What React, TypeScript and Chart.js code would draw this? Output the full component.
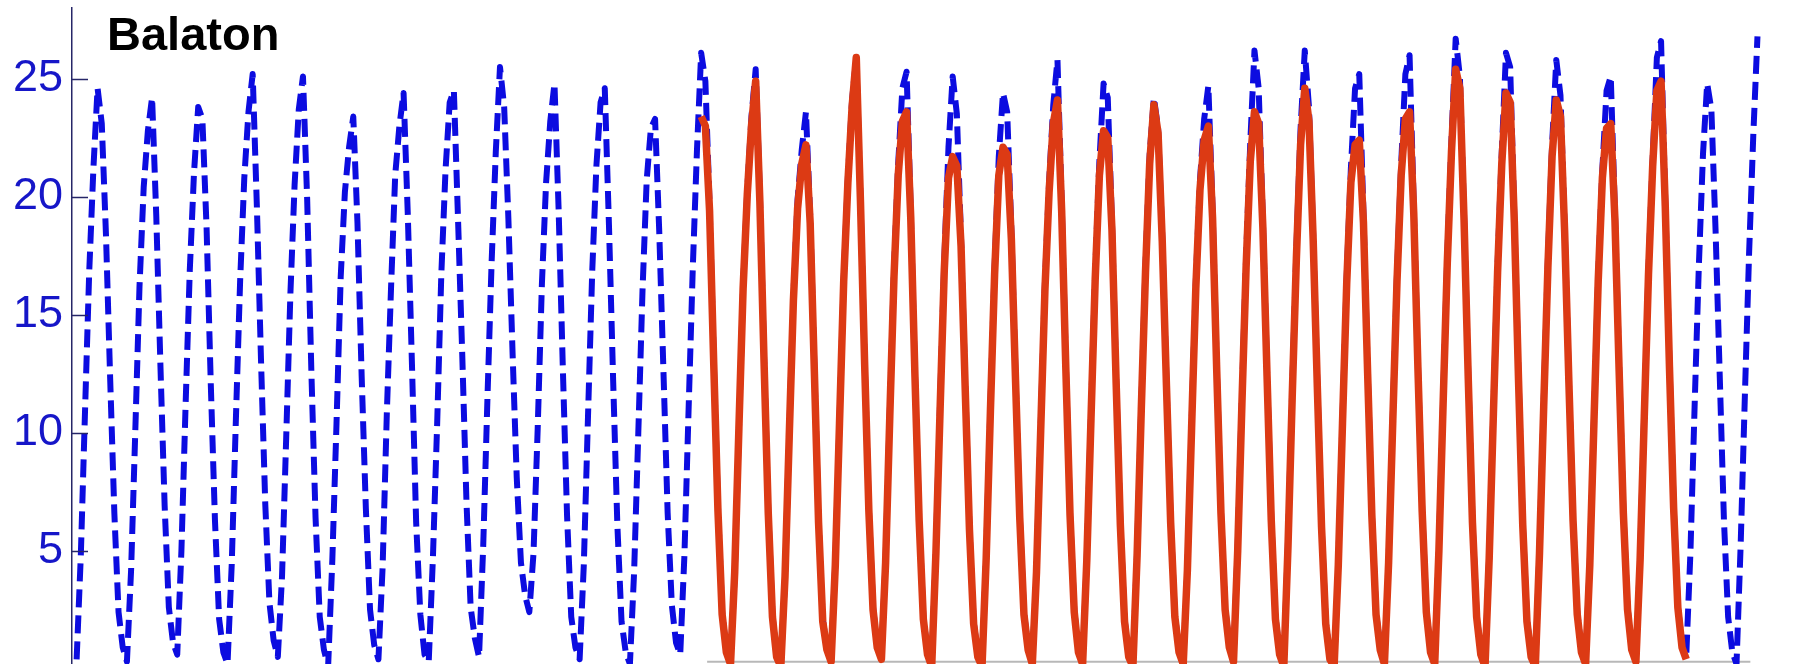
import React, { useEffect, useRef } from "react";
import { Chart, registerables } from "chart.js";

Chart.register(...registerables);

// ---- data -------------------------------------------------------------
const START_YEAR = 1977;
const X_MIN = 1977.033;
const X_MAX = 2011.248;
const Y_MIN = 0.2;
const Y_MAX = 28;
const Y_TICKS = [5, 10, 15, 20, 25];

// Measured water temperature (blue, dashed) – monthly values from Feb 1977
const MEASURED_FIRST_MONTH = 1;
const MEASURED = [
  /* 1977 */ 0.4, 4.8, 10.9, 16.8, 21.2, 24.6, 23.1, 18.4, 12.3, 6.6, 2.4,
  /* 1978 */ 0.9, 0.3, 4.2, 10.1, 16.2, 20.4, 22.8, 24.2, 19.2, 12.8, 6.9, 2.6,
  /* 1979 */ 1.1, 0.6, 5.0, 11.2, 16.9, 21.0, 23.8, 23.3, 18.7, 12.1, 6.3, 2.1,
  /* 1980 */ 0.7, 0.2, 4.4, 10.6, 16.4, 20.8, 23.6, 25.2, 19.6, 13.0, 7.0, 2.8,
  /* 1981 */ 1.2, 0.5, 3.9, 9.8, 15.9, 20.5, 23.7, 25.1, 19.9, 12.6, 6.4, 2.2,
  /* 1982 */ 0.8, 0.1, 4.6, 10.4, 16.6, 20.2, 22.1, 23.4, 18.9, 12.4, 6.8, 2.5,
  /* 1983 */ 1.0, 0.4, 4.3, 10.8, 16.1, 20.9, 23.0, 24.4, 19.3, 12.9, 6.2, 2.3,
  /* 1984 */ 0.6, 0.3, 4.7, 10.3, 16.7, 21.1, 24.0, 24.5, 19.0, 13.3, 7.1, 2.6,
  /* 1985 */ 1.3, 0.5, 5.2, 11.4, 17.2, 21.9, 25.5, 23.8, 19.1, 13.4, 8.1, 4.5,
  /* 1986 */ 3.1, 2.4, 4.9, 10.2, 16.3, 20.6, 23.2, 24.8, 19.4, 12.7, 6.5, 2.2,
  /* 1987 */ 0.9, 0.4, 4.4, 10.7, 16.8, 21.3, 24.0, 24.6, 18.8, 12.2, 6.1, 2.0,
  /* 1988 */ 0.7, 0.2, 4.1, 10.0, 16.0, 20.7, 22.9, 23.3, 18.5, 12.6, 6.6, 2.7,
  /* 1989 */ 1.1, 0.6, 4.8, 11.0, 17.0, 22.0, 26.1, 24.9, 19.7, 13.1, 6.9, 2.4,
  /* 1990 */ 0.8, 0.3, 4.0, 10.1, 16.2, 20.3, 23.4, 25.4, 20.1, 13.2, 6.7, 2.3,
  /* 1991 */ 0.5, 0.1, 3.8, 9.9, 15.8, 19.9, 22.0, 23.6, 19.2, 12.8, 6.3, 2.1,
  /* 1992 */ 0.9, 0.4, 4.5, 10.5, 16.5, 20.8, 24.1, 25.9, 20.0, 13.0, 6.8, 2.6,
  /* 1993 */ 1.0, 0.5, 4.6, 10.9, 16.9, 21.4, 24.6, 25.3, 19.4, 12.5, 6.4, 2.2,
  /* 1994 */ 0.7, 0.2, 5.1, 11.3, 17.3, 22.1, 25.1, 23.5, 18.2, 12.0, 6.0, 2.0,
  /* 1995 */ 0.6, 0.1, 4.9, 11.1, 17.0, 21.7, 24.4, 23.6, 18.6, 12.4, 6.5, 2.4,
  /* 1996 */ 0.9, 0.3, 4.2, 10.3, 16.3, 20.6, 23.9, 25.8, 19.8, 12.9, 6.6, 2.5,
  /* 1997 */ 0.8, 0.2, 4.7, 10.8, 16.8, 21.5, 24.8, 24.2, 18.9, 12.3, 6.2, 2.1,
  /* 1998 */ 0.6, 0.2, 5.0, 11.2, 17.1, 21.8, 24.2, 22.9, 18.3, 12.2, 6.3, 2.3,
  /* 1999 */ 0.8, 0.3, 4.3, 10.4, 16.4, 20.7, 23.3, 24.7, 19.5, 12.8, 6.7, 2.6,
  /* 2000 */ 1.0, 0.4, 5.2, 11.5, 17.4, 22.3, 26.2, 24.6, 19.0, 12.6, 6.4, 2.2,
  /* 2001 */ 0.7, 0.2, 5.4, 11.8, 17.8, 22.9, 26.2, 23.8, 18.4, 12.1, 6.1, 2.0,
  /* 2002 */ 0.5, 0.1, 4.5, 10.6, 16.6, 21.2, 24.6, 25.2, 19.3, 12.7, 6.6, 2.4,
  /* 2003 */ 0.9, 0.3, 4.6, 10.7, 16.7, 21.4, 25.2, 26.0, 19.6, 12.9, 6.8, 2.5,
  /* 2004 */ 0.8, 0.3, 5.1, 11.4, 17.5, 22.4, 26.7, 25.1, 19.2, 12.5, 6.3, 2.3,
  /* 2005 */ 0.7, 0.2, 4.8, 11.0, 17.1, 21.9, 26.1, 25.5, 19.1, 12.4, 6.2, 2.1,
  /* 2006 */ 0.6, 0.1, 5.0, 11.3, 17.3, 22.2, 25.8, 24.3, 18.7, 12.3, 6.4, 2.4,
  /* 2007 */ 0.8, 0.3, 4.5, 10.6, 16.6, 21.2, 24.5, 25.1, 19.3, 12.8, 6.7, 2.6,
  /* 2008 */ 0.9, 0.4, 4.7, 10.9, 16.9, 21.6, 25.9, 26.6, 19.8, 13.0, 6.9, 2.7,
  /* 2009 */ 1.0, 0.5, 4.9, 11.1, 17.0, 21.8, 24.8, 23.7, 18.6, 12.4, 6.3, 2.2,
  /* 2010 */ 0.7, 0.2, 5.3, 11.6, 17.6, 22.6, 26.8,
];

// Modelled water temperature (red) – monthly values from Jul 1989
const MODEL_FIRST_MONTH = 150;
const MODEL = [
  /* 1989 */ 23.4, 23.0, 19.4, 12.9, 6.7, 2.3,
  /* 1990 */ 0.7, 0.2, 4.1, 10.2, 16.1, 20.1, 23.0, 24.9, 19.8, 13.0, 6.6, 2.2,
  /* 1991 */ 0.5, 0.1, 3.9, 9.8, 15.6, 19.5, 21.4, 22.2, 18.9, 12.6, 6.2, 2.0,
  /* 1992 */ 0.8, 0.3, 4.4, 10.4, 16.4, 20.6, 23.8, 25.9, 19.8, 12.9, 6.7, 2.5,
  /* 1993 */ 0.9, 0.4, 4.5, 10.7, 16.6, 20.9, 23.2, 23.6, 19.1, 12.4, 6.3, 2.1,
  /* 1994 */ 0.6, 0.1, 4.9, 11.0, 16.9, 20.8, 21.7, 21.3, 17.9, 11.8, 5.9, 1.9,
  /* 1995 */ 0.5, 0.1, 4.7, 10.9, 16.7, 20.9, 22.1, 21.8, 18.2, 12.2, 6.4, 2.3,
  /* 1996 */ 0.8, 0.2, 4.1, 10.1, 16.0, 20.2, 23.1, 24.1, 19.4, 12.7, 6.5, 2.4,
  /* 1997 */ 0.7, 0.2, 4.6, 10.6, 16.5, 20.9, 22.8, 22.5, 18.6, 12.1, 6.1, 2.0,
  /* 1998 */ 0.5, 0.1, 4.8, 11.0, 16.8, 21.4, 23.9, 22.7, 18.1, 12.0, 6.2, 2.2,
  /* 1999 */ 0.7, 0.2, 4.2, 10.2, 16.1, 20.3, 22.4, 23.0, 19.1, 12.6, 6.6, 2.5,
  /* 2000 */ 0.9, 0.3, 5.0, 11.2, 17.0, 21.5, 23.6, 23.1, 18.7, 12.4, 6.3, 2.1,
  /* 2001 */ 0.6, 0.1, 5.2, 11.5, 17.4, 22.2, 24.6, 23.2, 18.2, 11.9, 6.0, 1.9,
  /* 2002 */ 0.4, 0.1, 4.4, 10.4, 16.3, 20.6, 22.2, 22.4, 18.9, 12.5, 6.5, 2.3,
  /* 2003 */ 0.8, 0.2, 4.5, 10.5, 16.4, 20.9, 23.3, 23.6, 19.3, 12.7, 6.7, 2.4,
  /* 2004 */ 0.7, 0.2, 5.0, 11.2, 17.2, 21.9, 25.4, 24.6, 19.0, 12.3, 6.2, 2.2,
  /* 2005 */ 0.6, 0.1, 4.7, 10.8, 16.8, 21.4, 24.4, 24.0, 18.9, 12.2, 6.1, 2.0,
  /* 2006 */ 0.5, 0.1, 4.9, 11.1, 17.0, 21.7, 24.1, 23.4, 18.5, 12.2, 6.3, 2.3,
  /* 2007 */ 0.7, 0.2, 4.4, 10.5, 16.4, 20.8, 22.9, 23.1, 19.0, 12.6, 6.6, 2.5,
  /* 2008 */ 0.8, 0.3, 4.6, 10.7, 16.7, 21.3, 24.5, 24.9, 19.6, 12.8, 6.8, 2.6,
  /* 2009 */ 0.9, 0.4,
];

// thin grey baseline under the modelled period
const BASELINE_X = [1989.66, 2010.4];
const BASELINE_Y = [0.3, 0.3];

// ---- styles -----------------------------------------------------------
const BLUE = "#0c0ce0";
const RED = "#dc3a14";
const GREY = "#b8b8b8";
const AXIS_COLOR = "#262668";
const LABEL_COLOR = "#1616c8";
const FONT = "'Liberation Sans', Arial, Helvetica, sans-serif";

const toPoints = (vals: number[], firstMonth: number) =>
  vals.map((v, i) => ({ x: START_YEAR + (firstMonth + i + 0.5) / 12, y: v }));

export default function App() {
  const canvasRef = useRef<HTMLCanvasElement | null>(null);

  useEffect(() => {
    const canvas = canvasRef.current;
    if (!canvas) return;

    const innerTicks = {
      id: "innerTicks",
      afterDraw(chart: any) {
        const { ctx, chartArea } = chart;
        const ys = chart.scales.y;
        ctx.save();
        ctx.strokeStyle = AXIS_COLOR;
        ctx.lineWidth = 1.5;
        Y_TICKS.forEach((v) => {
          const py = Math.round(ys.getPixelForValue(v)) + 0.5;
          ctx.beginPath();
          ctx.moveTo(chartArea.left, py);
          ctx.lineTo(chartArea.left + 16, py);
          ctx.stroke();
        });
        ctx.restore();
      },
    };

    const chart = new Chart(canvas, {
      type: "line",
      data: {
        datasets: [
          {
            label: "model",
            data: toPoints(MODEL, MODEL_FIRST_MONTH),
            borderColor: RED,
            borderWidth: 7.5,
            borderJoinStyle: "round",
            pointRadius: 0,
            tension: 0,
            order: 1,
          },
          {
            label: "measured",
            data: toPoints(MEASURED, MEASURED_FIRST_MONTH),
            borderColor: BLUE,
            borderWidth: 6,
            borderDash: [18, 8],
            borderJoinStyle: "round",
            pointRadius: 0,
            tension: 0,
            order: 2,
          },
          {
            label: "baseline",
            data: BASELINE_X.map((x, i) => ({ x, y: BASELINE_Y[i] })),
            borderColor: GREY,
            borderWidth: 2,
            pointRadius: 0,
            order: 3,
          },
        ],
      },
      options: {
        animation: false,
        responsive: false,
        layout: { padding: { top: 8, left: 0, right: 0, bottom: 0 } },
        plugins: {
          legend: { display: false },
          tooltip: { enabled: false },
          title: { display: false },
        },
        scales: {
          x: { type: "linear", display: false, min: X_MIN, max: X_MAX },
          y: {
            type: "linear",
            min: Y_MIN,
            max: Y_MAX,
            afterBuildTicks: (s: any) => {
              s.ticks = Y_TICKS.map((v) => ({ value: v }));
            },
            afterFit: (s: any) => {
              s.width = 72;
              s.paddingTop = 0;
              s.paddingBottom = 0;
            },
            grid: { display: true, drawOnChartArea: false, drawTicks: false },
            border: { display: true, color: AXIS_COLOR, width: 1.5 },
            ticks: {
              color: LABEL_COLOR,
              font: { family: FONT, size: 45 },
              padding: 9,
            },
          },
        },
      },
      plugins: [innerTicks],
    } as any);

    return () => chart.destroy();
  }, []);

  return (
    <div
      style={{
        position: "absolute",
        left: 0,
        top: 0,
        width: 1793,
        height: 664,
        background: "#ffffff",
        overflow: "hidden",
      }}
    >
      <canvas ref={canvasRef} width={1793} height={664} style={{ display: "block" }} />
      <div
        style={{
          position: "absolute",
          left: 107,
          top: 10,
          fontFamily: FONT,
          fontWeight: "bold",
          fontSize: 47,
          lineHeight: "47px",
          color: "#000",
          whiteSpace: "nowrap",
        }}
      >
        Balaton
      </div>
    </div>
  );
}
